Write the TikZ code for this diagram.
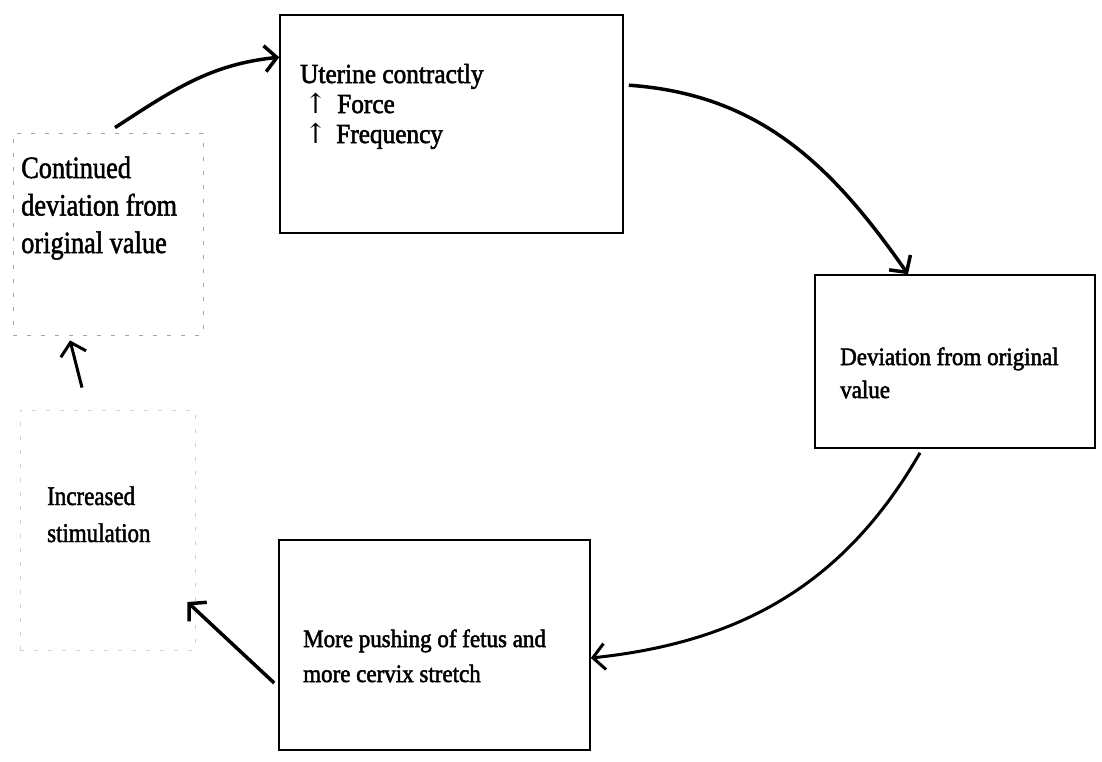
\documentclass[tikz,border=0pt]{standalone}
\usepackage{fontspec}
\setmainfont{Liberation Serif}
\newfontfamily\condA[FakeStretch=0.85,FakeBold=1.6]{Liberation Serif}
\newfontfamily\condB[FakeStretch=0.92,FakeBold=2]{Liberation Serif}
\newfontfamily\arrowfont{DejaVu Serif}
\usetikzlibrary{arrows.meta,calc}
\begin{document}
\begin{tikzpicture}[x=1pt,y=-1pt,
  box/.style={draw=black,line width=1.6pt,inner sep=0pt},
  faintbox/.style={draw=black!35,line width=0.8pt,dash pattern=on 4pt off 10pt,inner sep=0pt},
  txt/.style={anchor=base west,align=left,inner sep=0pt},
  flow/.style={line width=3.5pt,-{Straight Barb[length=12pt,width=26pt]}}]
\fill[white] (0,0) rectangle (1102,761);
\useasboundingbox (0,0) rectangle (1102,761);
% boxes
\node[box,minimum width=343pt,minimum height=218pt] (top) at (451.5,124) {};
\node[box,minimum width=280pt,minimum height=173pt] (dev) at (955,361.5) {};
\node[box,minimum width=311pt,minimum height=210pt] (push) at (434.5,645) {};
\node[faintbox,minimum width=190pt,minimum height=202pt] (tl) at (108,234) {};
\node[faintbox,draw=black!18,minimum width=175pt,minimum height=240pt] (inc) at (107.5,530) {};
% texts (anchor = baseline of the last line)
\node[txt,font=\condB\fontsize{27.5}{30}\selectfont] (uttxt) at (300,143)
  {Uterine contractly\\\hspace*{4pt}{\arrowfont ↑}\hspace{10pt}Force\\\hspace*{4pt}{\arrowfont ↑}\hspace{9pt}Frequency};
\node[txt,font=\condA\fontsize{31}{37.5}\selectfont] (tltxt) at (21,253)
  {Continued\\deviation from\\original value};
\node[txt,font=\condB\fontsize{25}{33}\selectfont] (devtxt) at (840,398)
  {Deviation from original\\value};
\node[txt,font=\condB\fontsize{25}{35}\selectfont] (pushtxt) at (303,682)
  {More pushing of fetus and\\more cervix stretch};
\node[txt,font=\condA\fontsize{27}{37}\selectfont] (inctxt) at (47,542)
  {Increased\\stimulation};
% connectors
\draw[flow] ([xshift=7pt,yshift=5pt]tl.north) to[out=33,in=186] ([yshift=-43pt]top.north west);
\draw[flow] ([xshift=5pt,yshift=-71pt]top.north east) to[out=-4,in=125] ([xshift=-47pt]dev.north);
\draw[flow,line width=3pt] ([xshift=-35pt,yshift=-4pt]dev.south) to[out=240,in=6] ([yshift=-13pt]push.east);
\draw[flow] ([xshift=-4pt,yshift=-38pt]push.west) -- ([xshift=-8pt,yshift=-72pt]inc.east);
\draw[flow,line width=3pt] ([xshift=-25.5pt,yshift=22pt]inc.north) -- ([xshift=-38pt,yshift=-5pt]tl.south);
\end{tikzpicture}
\end{document}
